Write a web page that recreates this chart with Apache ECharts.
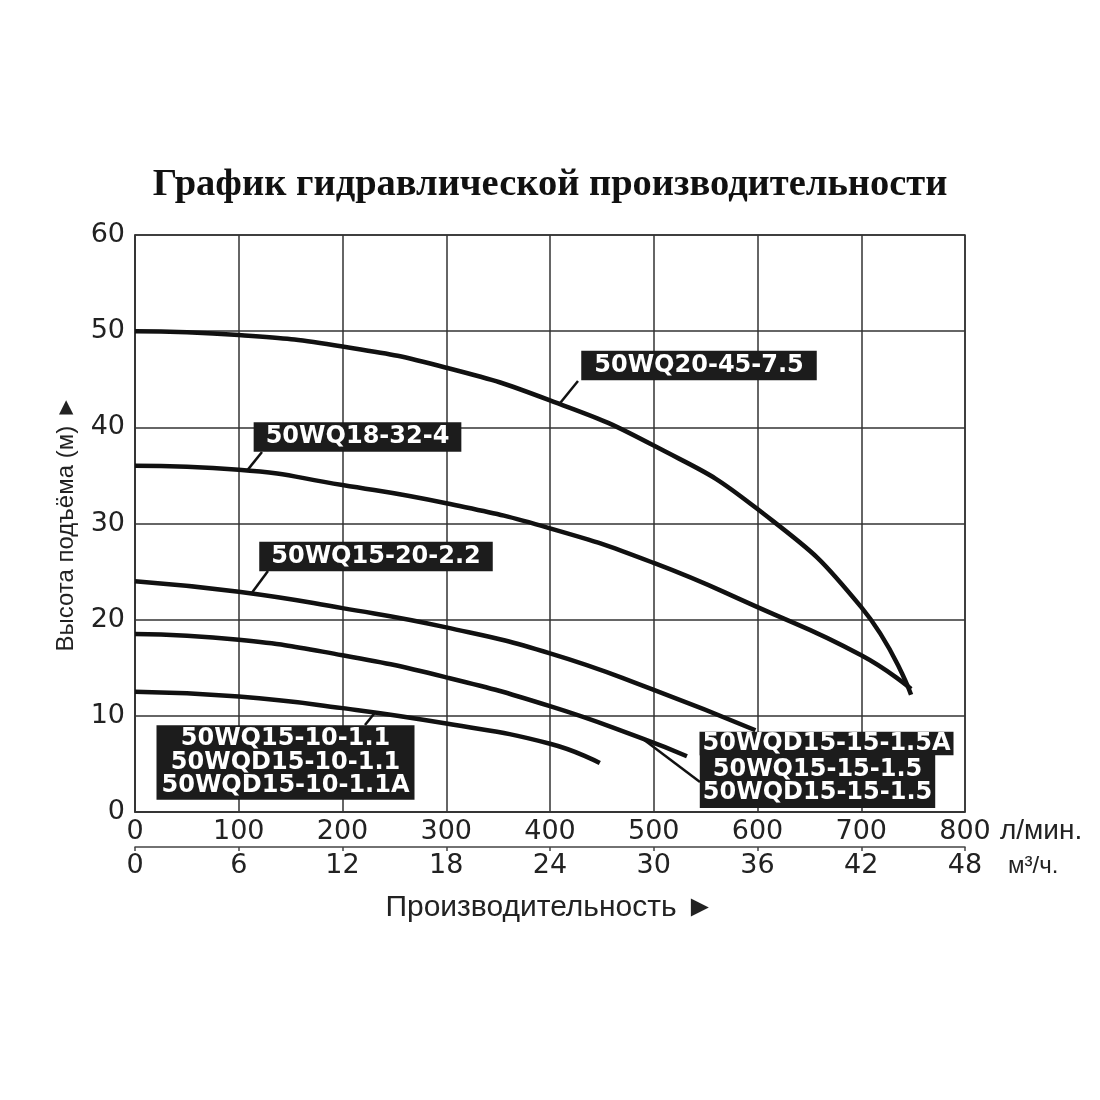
<!DOCTYPE html>
<html><head><meta charset="utf-8">
<script src="https://cdn.jsdelivr.net/npm/echarts@6/dist/echarts.min.js"></script>
<style>html,body{margin:0;padding:0;background:#fff}#c{width:1100px;height:1100px}</style>
</head><body><div id="c"></div>
<script>
// ---- data (flow in l/min, head in m) ----
const curve_50WQ20_45_75 = [[0,50],[100,49.6],[200,48.4],[300,46.2],[400,42.8],[500,38.1],[600,31.5],[700,21.3],[748,12.2]];
const curve_50WQ18_32_4 = [[0,36],[100,35.6],[200,34.0],[300,32.1],[400,29.5],[500,25.9],[600,21.3],[700,16.3],[748,12.8]];
const curve_50WQ15_20_22 = [[0,24],[100,22.9],[200,21.2],[300,19.2],[400,16.5],[500,12.7],[598,8.5]];
const curve_50WQ15_15_15 = [[0,18.5],[100,17.9],[200,16.3],[300,14.0],[400,11.0],[490,7.6],[532,5.8]];
const curve_50WQ15_10_11 = [[0,12.5],[100,12.0],[200,10.8],[300,9.2],[400,7.1],[448,5.1]];
const flowLminRange = [0, 800, 100];
const flowM3hRange = [0, 48, 6];
const headRange = [0, 60, 10];
const titleText = 'График гидравлической производительности';
const yName = 'Высота подъёма (м) ►';
const xName = 'Производительность ►';
const unitLmin = 'л/мин.';
const unitM3h = 'м³/ч.';

// label annotations: text, curve anchor in data units
const labelTexts = [
  '50WQ20-45-7.5',
  '50WQ18-32-4',
  '50WQ15-20-2.2',
  '50WQ15-10-1.1\n50WQD15-10-1.1\n50WQD15-10-1.1A',
  '50WQD15-15-1.5A',
  '50WQ15-15-1.5\n50WQD15-15-1.5'
];
const labelAnchors = [[409.6,42.5],[108,35.5],[112,22.7],[231,10.3],null,[487,7.8]];

// layout (pixels)
const labelBoxes = [[699,365.5],[357.5,437],[376,556.5],[285.5,762.5],[826.5,743.5],[817.5,781.5]];
const labelPads = [[3,13],[3,12],[3,12],[2,5],[0,3],[3,3]];
const leaderEnds = [[578,381],[262,452],[268,571],[365,725],null,[700,782]];

const chart = echarts.init(document.getElementById('c'));
const axisFont = {fontFamily:'DejaVu Sans', fontSize:27, color:'#222'};
const lineStyle = {color:'#111', width:4.5};
function mk(name, data){
  return {name, type:'line', data, smooth:0.5, symbol:'none', lineStyle, xAxisIndex:0, yAxisIndex:0, z:5};
}
chart.setOption({
  animation:false,
  backgroundColor:'#fff',
  title:{text:titleText, left:'center', top:161, textStyle:{fontFamily:'Liberation Serif', fontWeight:'bold', fontSize:38.5, color:'#111'}},
  grid:{left:135, right:135, top:235, bottom:288, show:true, borderColor:'#333', borderWidth:1.5},
  xAxis:[
    {type:'value', min:flowLminRange[0], max:flowLminRange[1], interval:flowLminRange[2], position:'bottom',
     axisLine:{show:true, lineStyle:{color:'#333', width:1.5}}, axisTick:{show:false},
     axisLabel:{...axisFont, margin:6}, splitLine:{show:true, lineStyle:{color:'#333', width:1.5}}},
    {type:'value', min:flowM3hRange[0], max:flowM3hRange[1], interval:flowM3hRange[2], position:'bottom', offset:35,
     axisLine:{show:true, lineStyle:{color:'#444', width:1.5}}, axisTick:{show:true, length:4, lineStyle:{color:'#444', width:1.5}},
     axisLabel:{...axisFont, margin:5}, splitLine:{show:false},
     name:xName, nameLocation:'middle', nameGap:46, nameTextStyle:{fontFamily:'Liberation Sans', fontSize:30, color:'#222'}}
  ],
  yAxis:{type:'value', min:headRange[0], max:headRange[1], interval:headRange[2],
     axisLine:{show:true, lineStyle:{color:'#333', width:1.5}}, axisTick:{show:false},
     axisLabel:{...axisFont, margin:10}, splitLine:{show:true, lineStyle:{color:'#333', width:1.5}},
     name:yName, nameLocation:'middle', nameGap:57, nameRotate:90, nameTextStyle:{fontFamily:'Liberation Sans', fontSize:24, color:'#222'}},
  series:[
    mk('50WQ20-45-7.5', curve_50WQ20_45_75),
    mk('50WQ18-32-4', curve_50WQ18_32_4),
    mk('50WQ15-20-2.2', curve_50WQ15_20_22),
    mk('50WQ15-15-1.5', curve_50WQ15_15_15),
    mk('50WQ15-10-1.1', curve_50WQ15_10_11)
  ]
});

const elements = [];
labelTexts.forEach((t,i)=>{
  if (labelAnchors[i]) {
    const p = chart.convertToPixel({xAxisIndex:0, yAxisIndex:0}, labelAnchors[i]);
    elements.push({type:'line', z:20, shape:{x1:p[0], y1:p[1], x2:leaderEnds[i][0], y2:leaderEnds[i][1]}, style:{stroke:'#111', lineWidth:2.5}});
  }
  const pd = labelPads[i];
  elements.push({type:'text', z:30, x:labelBoxes[i][0], y:labelBoxes[i][1],
    style:{text:t, align:'center', verticalAlign:'middle', fill:'#fff', font:'bold 24px "DejaVu Sans"',
      lineHeight:23.5, backgroundColor:'#1c1c1c', padding:[pd[0],pd[1],pd[0],pd[1]]}});
});
elements.push({type:'text', x:1000, y:831, style:{text:unitLmin, align:'left', verticalAlign:'middle', fill:'#222', font:'28px "Liberation Sans"'}});
elements.push({type:'text', x:1008, y:866, style:{text:unitM3h, align:'left', verticalAlign:'middle', fill:'#222', font:'24px "Liberation Sans"'}});
chart.setOption({graphic:{elements}});
</script></body></html>
